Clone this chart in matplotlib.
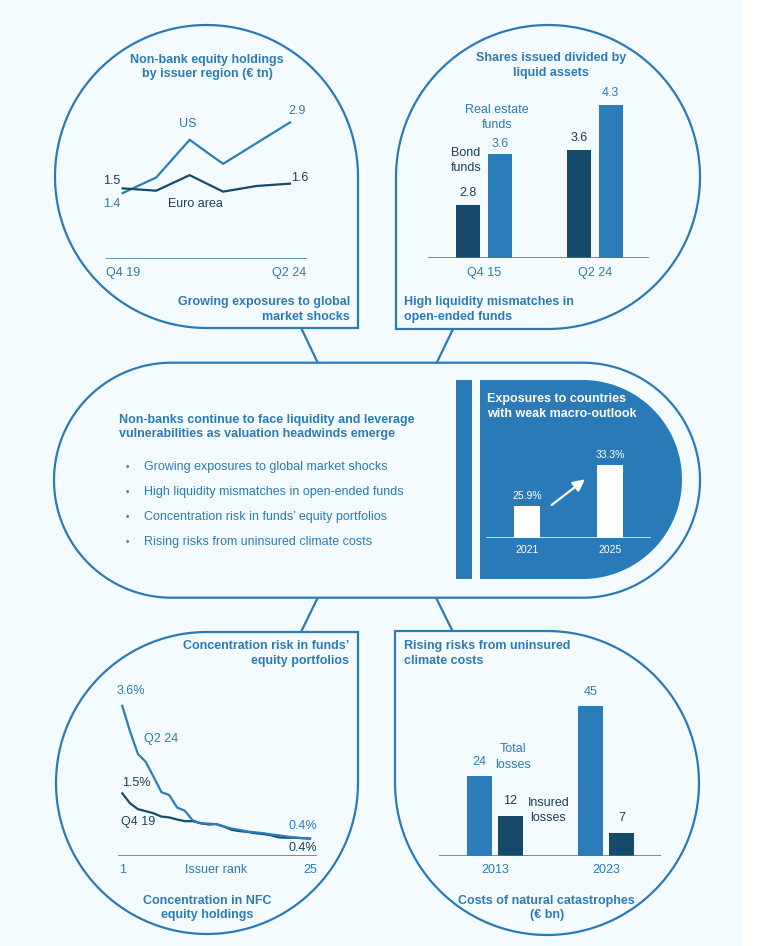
import numpy as np
import matplotlib
matplotlib.use("Agg")
import matplotlib.pyplot as plt
from matplotlib.path import Path
from matplotlib.patches import PathPatch, Rectangle

# ---------------- data ----------------
eq_periods = ["Q4 19", "Q2 24"]
eq_us = [1.4, 1.73, 2.53, 2.02, 2.46, 2.9]
eq_ea = [1.5, 1.45, 1.78, 1.43, 1.55, 1.6]

liq_periods = ["Q4 15", "Q2 24"]
liq_bond = [2.8, 3.63]
liq_re = [3.56, 4.3]

conc_rank = list(range(1, 26))
conc_q224 = [3.62, 3.0, 2.46, 2.27, 1.91, 1.54, 1.47, 1.17, 1.09, 0.86, 0.79, 0.78, 0.77,
             0.71, 0.66, 0.63, 0.59, 0.57, 0.55, 0.52, 0.50, 0.47, 0.45, 0.43, 0.42]
conc_q419 = [1.51, 1.27, 1.13, 1.08, 1.03, 0.95, 0.93, 0.88, 0.84, 0.84, 0.79, 0.76, 0.77,
             0.71, 0.63, 0.60, 0.58, 0.55, 0.53, 0.50, 0.45, 0.44, 0.44, 0.43, 0.42]

cat_years = ["2013", "2023"]
cat_total = [24, 45]
cat_insured = [12, 7]

mac_years = ["2021", "2025"]
mac_share = [25.9, 33.3]

bullets = ["Growing exposures to global market shocks",
           "High liquidity mismatches in open-ended funds",
           "Concentration risk in funds\u2019 equity portfolios",
           "Rising risks from uninsured climate costs"]

# ---------------- style ----------------
W, H = 760, 946
BG = "#F4FBFF"
EDGE = "#2A7AB7"
LIGHT = "#2A7DB8"
DARK = "#154A6B"
TXT = "#2C7BB6"
TXT_DARK = "#1B3F5C"
FONT = "Liberation Sans"
plt.rcParams["font.family"] = [FONT, "DejaVu Sans"]

fig = plt.figure(figsize=(W / 100, H / 100), dpi=100, facecolor="white")
ax0 = fig.add_axes([0, 0, 1, 1])
ax0.set_xlim(0, W)
ax0.set_ylim(H, 0)
ax0.axis("off")
ax0.add_patch(Rectangle((0, 0), 743, H, facecolor=BG, edgecolor="none", zorder=0))


def arc(cx, cy, r, t0, t1, n=120):
    t = np.radians(np.linspace(t0, t1, n))
    return np.column_stack([cx + r * np.cos(t), cy - r * np.sin(t)])


def shape(pts, fc=BG, ec=EDGE, lw=1.6, z=1):
    pts = np.vstack([pts, pts[:1]])
    codes = [Path.MOVETO] + [Path.LINETO] * (len(pts) - 2) + [Path.CLOSEPOLY]
    ax0.add_patch(PathPatch(Path(pts, codes), facecolor=fc, edgecolor=ec, lw=lw, zorder=z,
                            joinstyle="miter"))


# connectors
for (xa, ya), (xb, yb) in [((300.7, 327), (317.7, 362.7)), ((454, 327), (436.7, 362.7)),
                           ((317.7, 597.7), (301, 632)), ((436, 597.7), (453, 632))]:
    ax0.plot([xa, xb], [ya, yb], color=EDGE, lw=1.6, zorder=1, solid_capstyle="butt")

# bubbles
shape(np.vstack([arc(206.5, 176.5, 151.5, 0, 270), [[358, 328]]]))
shape(np.vstack([arc(548, 177, 152, -90, 180), [[396, 329]]]))
shape(np.vstack([arc(207, 783, 151, 90, 360), [[358, 632]]]))
shape(np.vstack([arc(547, 783, 152, 180, 450), [[395, 631]]]))
# stadium
shape(np.vstack([[[171.5, 362.7]], arc(582.5, 480.2, 117.5, 90, -90),
                 arc(171.5, 480.2, 117.5, 270, 90)]))
# inner panel
ax0.add_patch(Rectangle((456, 380), 16, 199, facecolor=EDGE, edgecolor="none", zorder=2))
shape(np.vstack([[[480, 380]], arc(582.5, 479.5, 99.5, 90, -90), [[480, 579]]]),
      fc=EDGE, ec="none", lw=0, z=2)


def ptxt(x, y, s, color=TXT, bold=False, ha="left", size=9, ls=None):
    if ls is None:
        ls = 1.3 if bold else 1.36
    ax0.text(x, y, s, color=color, fontsize=size, fontweight="bold" if bold else "normal",
             ha=ha, va="center", multialignment=ha, linespacing=ls, zorder=5)


def sub_axes(x0, y0, x1, y1):
    a = fig.add_axes([x0 / W, 1 - y1 / H, (x1 - x0) / W, (y1 - y0) / H])
    a.set_facecolor("none")
    a.axis("off")
    return a


def lab(a, x, y, s, dx, dy, color, ha="center", size=9):
    a.annotate(s, xy=(x, y), xytext=(dx, dy), textcoords="offset pixels", ha=ha, va="center",
               color=color, fontsize=size, annotation_clip=False)


# ---------- top-left: line chart ----------
a1 = sub_axes(106, 100, 306.7, 259)
a1.set_xlim(-0.5, 5.5)
a1.set_ylim(0, 159 / 47.1)
xs = np.arange(len(eq_us))
a1.plot(xs, eq_us, color=LIGHT, lw=1.6, solid_joinstyle="miter")
a1.plot(xs, eq_ea, color=DARK, lw=1.6, solid_joinstyle="miter")
a1.axhline(0, color=EDGE, lw=1.1)
lab(a1, 0, eq_ea[0], f"{eq_ea[0]:.1f}", -2, 7, TXT_DARK, ha="right")
lab(a1, 0, eq_us[0], f"{eq_us[0]:.1f}", -2, -11, TXT, ha="right")
lab(a1, xs[-1], eq_us[-1], f"{eq_us[-1]:.1f}", 7, 11, TXT)
lab(a1, xs[-1], eq_ea[-1], f"{eq_ea[-1]:.1f}", 10, 6, TXT_DARK)
lab(a1, -0.5, 0, eq_periods[0], 0, -14, TXT, ha="left")
lab(a1, 5.5, 0, eq_periods[1], 0, -14, TXT, ha="right")
ptxt(187.7, 124.3, "US", ha="center")
ptxt(195, 204, "Euro area", color=TXT_DARK, ha="center")
ptxt(207, 67, "Non-bank equity holdings\nby issuer region (\u20ac tn)", bold=True, ha="center")
ptxt(350, 309.7, "Growing exposures to global\nmarket shocks", bold=True, ha="right")

# ---------- top-right: bars ----------
a2 = sub_axes(428.3, 80, 649.3, 258.3)
a2.set_xlim(-0.502, 1.489)
a2.set_ylim(2.0, 2.0 + 178.3 / 66.67)
g = np.arange(len(liq_periods))
bw, off = 0.22, 0.142
a2.bar(g - off, np.array(liq_bond) - 2.0, bw, bottom=2.0, color=DARK)
a2.bar(g + off, np.array(liq_re) - 2.0, bw, bottom=2.0, color=LIGHT)
a2.axhline(2.0, color=EDGE, lw=1.1)
for i in g:
    lab(a2, i - off, liq_bond[i], f"{liq_bond[i]:.1f}", 0, 12, TXT_DARK)
    lab(a2, i + off, liq_re[i], f"{liq_re[i]:.1f}", 0, 10 if i == 0 else 12, TXT)
    lab(a2, i, 2.0, liq_periods[i], 0, -14.4, TXT)
ptxt(497.3, 117.7, "Real estate\nfunds", ha="center")
ptxt(466, 160.8, "Bond\nfunds", color=TXT_DARK, ha="center")
ptxt(550.7, 65.5, "Shares issued divided by\nliquid assets", bold=True, ha="center")
ptxt(404.3, 309.7, "High liquidity mismatches in\nopen-ended funds", bold=True)

# ---------- middle ----------
ptxt(119.3, 427, "Non-banks continue to face liquidity and leverage\n"
     "vulnerabilities as valuation headwinds emerge", bold=True, ls=1.25)
for yb, s in zip([466.7, 491.7, 516.7, 542.3], bullets):
    ptxt(127.7, yb, "\u2022", ha="center", size=7)
    ptxt(144.3, yb, s)
ptxt(487, 406.5, "Exposures to countries\nwith weak macro-outlook", color="white", bold=True,
     ls=1.3)

a3 = sub_axes(486, 430, 650.7, 538)
base = 20.12
a3.set_xlim(-0.493, 1.49)
a3.set_ylim(base, base + 108 / 5.54)
gm = np.arange(len(mac_years))
a3.bar(gm, np.array(mac_share) - base, 0.31, bottom=base, color="white")
a3.axhline(base, color="white", lw=1.1)
for i in gm:
    lab(a3, i, mac_share[i], f"{mac_share[i]:.1f}%", 0, 10, "white", size=7.5)
    lab(a3, i, base, mac_years[i], 0, -12, "white", size=7.5)
ax0.annotate("", xy=(585, 479.3), xytext=(551.7, 505),
             arrowprops=dict(arrowstyle="-|>,head_length=0.7,head_width=0.35",
                             color="white", lw=1.6, shrinkA=0, shrinkB=0), zorder=6)

# ---------- bottom-left: concentration ----------
a4 = sub_axes(118.3, 680, 317.3, 856)
a4.set_xlim(0.49, 25.93)
a4.set_ylim(0, 176 / 41.47)
a4.plot(conc_rank, conc_q419, color=DARK, lw=1.6)
a4.plot(conc_rank, conc_q224, color=LIGHT, lw=1.6)
a4.axhline(0, color=EDGE, lw=1.1)
lab(a4, 1, conc_q224[0], f"{conc_q224[0]:.1f}%", 9, 15, TXT)
lab(a4, 1, conc_q419[0], f"{conc_q419[0]:.1f}%", 14, 10, TXT_DARK)
lab(a4, 25, conc_q224[-1], f"{conc_q224[-1]:.1f}%", -7, 12.6, TXT)
lab(a4, 25, conc_q419[-1], f"{conc_q419[-1]:.1f}%", -7, -9.7, TXT_DARK)
lab(a4, 1, 0, "1", 0, -14, TXT)
lab(a4, 13, 0, "Issuer rank", 0, -14, TXT)
lab(a4, 25, 0, "25", 0, -14, TXT)
ptxt(160.7, 739.3, "Q2 24", ha="center")
ptxt(138.3, 822.3, "Q4 19", color=TXT_DARK, ha="center")
ptxt(349.3, 653.3, "Concentration risk in funds\u2019\nequity portfolios", bold=True, ha="right")
ptxt(207.3, 908, "Concentration in NFC\nequity holdings", bold=True, ha="center")

# ---------- bottom-right: catastrophes ----------
a5 = sub_axes(439.3, 680, 661, 856)
a5.set_xlim(-0.5, 1.493)
a5.set_ylim(0, 176 / 3.333)
gc = np.arange(len(cat_years))
a5.bar(gc - 0.14, cat_total, 0.22, color=LIGHT)
a5.bar(gc + 0.14, cat_insured, 0.22, color=DARK)
a5.axhline(0, color=EDGE, lw=1.1)
for i in gc:
    lab(a5, i - 0.14, cat_total[i], f"{cat_total[i]}", 0, 14, TXT)
    lab(a5, i + 0.14, cat_insured[i], f"{cat_insured[i]}", 0, 15, TXT_DARK)
    lab(a5, i, 0, cat_years[i], 0, -14, TXT)
ptxt(512.7, 757, "Total\nlosses", ha="center")
ptxt(548.3, 810.8, "Insured\nlosses", color=TXT_DARK, ha="center")
ptxt(404.3, 653.2, "Rising risks from uninsured\nclimate costs", bold=True)
ptxt(546.7, 908, "Costs of natural catastrophes\n(\u20ac bn)", bold=True, ha="center")

fig.savefig("out.png", dpi=100, facecolor="white")
